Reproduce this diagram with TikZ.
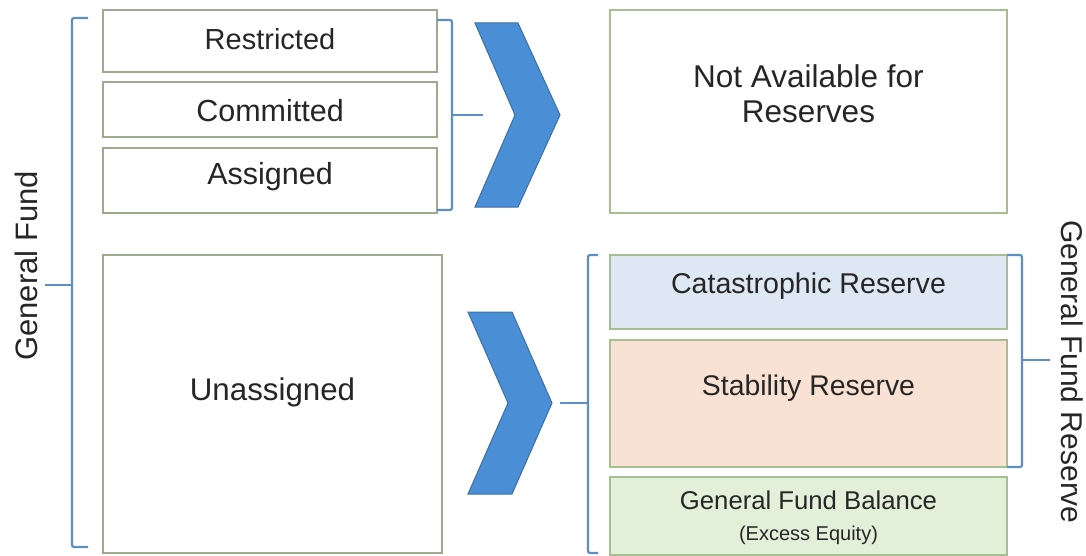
\documentclass[tikz,border=0pt]{standalone}
\usepackage{fontspec}
\setmainfont{Liberation Sans}
\definecolor{boxline}{HTML}{9DAA8C}
\definecolor{greenline}{HTML}{A7BE92}
\definecolor{catfill}{HTML}{DEE8F4}
\definecolor{stabfill}{HTML}{F9E2D4}
\definecolor{gffill}{HTML}{E2EFD9}
\definecolor{chevfill}{HTML}{4A8FD6}
\definecolor{chevline}{HTML}{3D6FA6}
\definecolor{brk}{HTML}{5E8FC4}
\definecolor{txt}{HTML}{262626}
\tikzset{
  box/.style={draw=boxline, line width=1.8pt, fill=white, rectangle, inner sep=0pt},
  gbox/.style={draw=greenline, line width=1.8pt, rectangle, inner sep=0pt},
  lbl/.style={text=txt, inner sep=0pt, anchor=base},
  chev/.style={fill=chevfill, draw=chevline, line width=1pt, line join=miter},
  bracket/.style={draw=brk, line width=2.2pt, rounded corners=2pt}
}
\begin{document}
\begin{tikzpicture}[x=1pt,y=-1pt]
\useasboundingbox (0,0) rectangle (1086,556);
\fill[white] (0,0) rectangle (1086,556);
% left boxes
\node[box, minimum width=334pt, minimum height=62pt] (rbox) at (270,41) {};
\node[box, minimum width=334pt, minimum height=55pt] (cbox) at (270,109.5) {};
\node[box, minimum width=334pt, minimum height=65pt] (abox) at (270,180.5) {};
\node[box, minimum width=339pt, minimum height=298pt] (ubox) at (272.5,404) {};
\node[lbl, font=\fontsize{29}{34}\selectfont] (rtxt) at (270,50) {Restricted};
\node[lbl, font=\fontsize{30.5}{34}\selectfont] (ctxt) at (270,121.5) {Committed};
\node[lbl, font=\fontsize{30.5}{34}\selectfont] (atxt) at (270,185) {Assigned};
\node[lbl, font=\fontsize{31.3}{34}\selectfont] (utxt) at (272.5,400) {Unassigned};
% right boxes
\node[box, draw=greenline, minimum width=397pt, minimum height=203pt] (nbox) at (808.5,111.5) {};
\node[lbl, font=\fontsize{31.5}{34}\selectfont] (ntxt1) at (808.5,88) {Not Available for};
\node[lbl, font=\fontsize{31.5}{34}\selectfont] (ntxt2) at (808.5,123) {Reserves};
\node[gbox, fill=catfill, minimum width=397pt, minimum height=74pt] (catbox) at (808.5,292) {};
\node[gbox, fill=stabfill, minimum width=397pt, minimum height=127pt] (stabbox) at (808.5,403.5) {};
\node[gbox, fill=gffill, minimum width=397pt, minimum height=78pt] (gfbox) at (808.5,516) {};
\node[lbl, font=\fontsize{28.6}{34}\selectfont] (cattxt) at (808.5,293) {Catastrophic Reserve};
\node[lbl, font=\fontsize{28.4}{34}\selectfont] (stabtxt) at (808.5,395) {Stability Reserve};
\node[lbl, font=\fontsize{25.7}{30}\selectfont] (gftxt) at (808.5,509) {General Fund Balance};
\node[lbl, font=\fontsize{20}{24}\selectfont] (extxt) at (808.5,540) {(Excess Equity)};
% chevrons
\draw[chev] (475,23) -- (518,23) -- (560,115) -- (518,207) -- (475,207) -- (515,115) -- cycle;
\draw[chev] (468,312) -- (512,312) -- (552,403) -- (512,494) -- (468,494) -- (508,403) -- cycle;
% brackets
\draw[bracket] (88,18) -- (72,18) -- (72,547) -- (88,547);
\draw[draw=brk, line width=2.2pt] (45,285) -- (72,285);
\draw[bracket] (437,20) -- (452,20) -- (452,210) -- (437,210);
\draw[draw=brk, line width=2.2pt] (452,115) -- (483,115);
\draw[bracket] (598,255) -- (588,255) -- (588,553) -- (598,553);
\draw[draw=brk, line width=2.2pt] (560,403) -- (588,403);
\draw[bracket] (1007,255) -- (1022,255) -- (1022,467) -- (1007,467);
\draw[draw=brk, line width=2.2pt] (1022,360) -- (1050,360);
% side labels
\node[lbl, rotate=90, font=\fontsize{31}{34}\selectfont] (gflab) at (37,266) {General Fund};
\node[lbl, rotate=-90, font=\fontsize{30}{34}\selectfont] (gfrlab) at (1061,372) {General Fund Reserve};
\end{tikzpicture}
\end{document}
